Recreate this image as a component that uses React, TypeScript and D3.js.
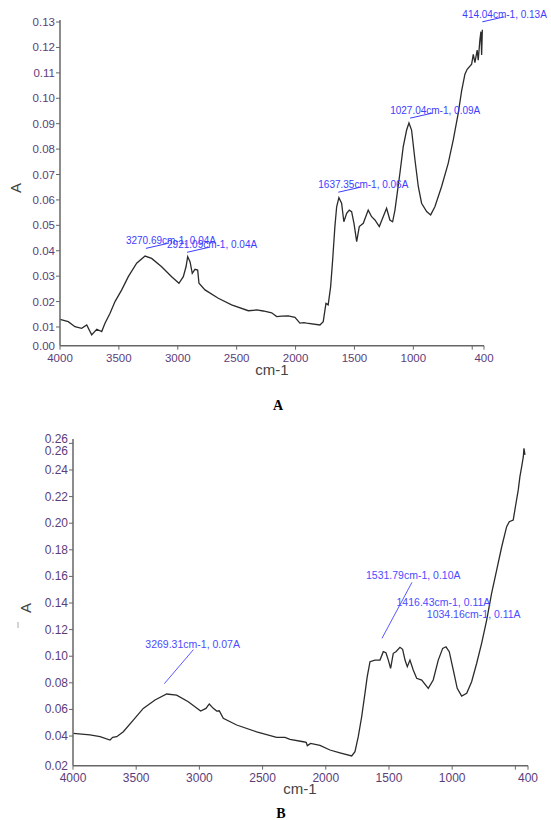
import React from 'react';
import * as d3 from 'd3';

// spectrum A (cm-1, absorbance)
const wavenumbersA = [
  4000, 3930, 3873, 3816, 3773, 3731, 3688, 3646, 3618, 3575, 3533, 3476, 3420, 3349, 3278, 3222,
  3137, 3052, 2990, 2953, 2930, 2916, 2896, 2877, 2854, 2831, 2820, 2769, 2656, 2543, 2401, 2330,
  2274, 2203, 2160, 2118, 2062, 2005, 1963, 1929, 1906, 1793, 1765, 1742, 1723, 1702, 1685, 1666,
  1651, 1632, 1609, 1590, 1566, 1544, 1524, 1504, 1481, 1459, 1425, 1383, 1354, 1326, 1289, 1256,
  1227, 1199, 1176, 1156, 1137, 1114, 1086, 1057, 1037, 1015, 986, 958, 930, 887, 853, 817, 760,
  704, 661, 619, 590, 562, 543, 505, 491, 477, 458, 449, 435, 426, 420, 414,
];
const absorbanceA = [
  0.013, 0.0121, 0.0101, 0.0095, 0.0108, 0.0069, 0.0091, 0.0082, 0.0115, 0.0154, 0.02, 0.0246,
  0.0298, 0.0351, 0.0379, 0.037, 0.0337, 0.0298, 0.0272, 0.0298, 0.0337, 0.0377, 0.0357, 0.0311,
  0.0327, 0.0324, 0.0272, 0.0246, 0.0213, 0.0187, 0.0164, 0.0167, 0.0163, 0.0156, 0.0141, 0.0143,
  0.0144, 0.0138, 0.0115, 0.0117, 0.0115, 0.0108, 0.0121, 0.0193, 0.0187, 0.0259, 0.0364, 0.0495,
  0.0573, 0.0609, 0.0587, 0.0514, 0.0547, 0.056, 0.0554, 0.0508, 0.0436, 0.0495, 0.0508, 0.056,
  0.0534, 0.0521, 0.0495, 0.0534, 0.0567, 0.0521, 0.0514, 0.056, 0.0626, 0.0705, 0.0809, 0.0875,
  0.0903, 0.0875, 0.0757, 0.0653, 0.0587, 0.0554, 0.0541, 0.0573, 0.0653, 0.0744, 0.0836, 0.0941,
  0.1029, 0.1095, 0.1114, 0.1134, 0.1173, 0.114, 0.119, 0.115, 0.1229, 0.1262, 0.117, 0.127,
];

// spectrum B
const wavenumbersB = [
  3997, 3866, 3786, 3707, 3686, 3654, 3602, 3523, 3444, 3351, 3259, 3180, 3088, 2990, 2948, 2922,
  2890, 2863, 2843, 2811, 2705, 2547, 2389, 2323, 2283, 2178, 2155, 2146, 2120, 2046, 1967, 1888,
  1795, 1769, 1743, 1716, 1690, 1672, 1650, 1611, 1571, 1545, 1524, 1505, 1487, 1466, 1445, 1413,
  1392, 1373, 1355, 1334, 1308, 1281, 1241, 1189, 1150, 1110, 1075, 1049, 1023, 991, 960, 925, 885,
  846, 806, 767, 727, 688, 648, 608, 569, 548, 517, 495, 477, 464, 450, 437, 432, 424,
];
const absorbanceB = [
  0.042, 0.0408, 0.0395, 0.037, 0.039, 0.0395, 0.0432, 0.052, 0.0608, 0.0671, 0.0716, 0.0708,
  0.0658, 0.0588, 0.0608, 0.0641, 0.0608, 0.0588, 0.059, 0.0533, 0.0483, 0.0432, 0.039, 0.039,
  0.0375, 0.0357, 0.0352, 0.0328, 0.0345, 0.033, 0.0295, 0.0274, 0.025, 0.0282, 0.0395, 0.0545,
  0.0721, 0.0846, 0.0959, 0.0971, 0.0971, 0.1034, 0.1026, 0.0971, 0.0909, 0.1022, 0.1034, 0.1067,
  0.1052, 0.0971, 0.0921, 0.0971, 0.0896, 0.0834, 0.0821, 0.0759, 0.0821, 0.0971, 0.1059, 0.1071,
  0.1034, 0.0896, 0.0759, 0.07, 0.0721, 0.0808, 0.0947, 0.1097, 0.1272, 0.1473, 0.1648, 0.1823,
  0.1974, 0.2011, 0.2024, 0.215, 0.225, 0.235, 0.2425, 0.25, 0.2563, 0.2513,
];

const xTicks = [4000, 3500, 3000, 2500, 2000, 1500, 1000, 500, 400];
const xTickLabels = ['4000', '3500', '3000', '2500', '2000', '1500', '1000', '', '400'];
const yTicksA = [0.01, 0.02, 0.03, 0.04, 0.05, 0.06, 0.07, 0.08, 0.09, 0.1, 0.11, 0.12, 0.13];
const yTicksB = [0.04, 0.06, 0.08, 0.1, 0.12, 0.14, 0.16, 0.18, 0.2, 0.22, 0.24, 0.26];
const yDomainA = [0.00264, 0.1308];
const yDomainB = [0.0177, 0.2633];

const peaksA = [
  { w: 3270.69, a: '0.04' },
  { w: 2921.09, a: '0.04' },
  { w: 1637.35, a: '0.06' },
  { w: 1027.04, a: '0.09' },
  { w: 414.04, a: '0.13' },
];
const peaksB = [
  { w: 3269.31, a: '0.07' },
  { w: 1531.79, a: '0.10' },
  { w: 1416.43, a: '0.11' },
  { w: 1034.16, a: '0.11' },
];
// label placement for B (pixels relative to the peak)
const labelLayoutB = [
  { tx: -20, ty: -47, line: [-1, -11, 28, -45] },
  { tx: -19, ty: -73, line: [-3, -14, 27, -70] },
  { tx: -3, ty: -42, line: null },
  { tx: -21, ty: -32, line: null },
];

const tickColor = '#5c3d7a';
const labelBlue = '#3d3dff';
const font = 'Arial, "Liberation Sans", sans-serif';
const serif = "'Liberation Serif', 'Times New Roman', serif";

type PanelProps = {
  ws: number[];
  as: number[];
  left: number;
  right: number;
  top: number;
  bottom: number;
  yDomain: number[];
  yTicks: number[];
  tickSize: number;
  topLabel: boolean;
};

function Panel({ ws, as, left, right, top, bottom, yDomain, yTicks, tickSize, topLabel }: PanelProps) {
  const x = d3.scaleLinear().domain([4000, 400]).range([left, right]);
  const y = d3.scaleLinear().domain(yDomain).range([bottom, top]);
  const pts = ws.map((w, i) => [w, as[i]] as [number, number]);
  const line = d3
    .line<[number, number]>()
    .x((d) => x(d[0]))
    .y((d) => y(d[1]));
  const fmt = d3.format('.2f');
  return (
    <g>
      <path d={line(pts) || ''} fill="none" stroke="#2b2b2b" strokeWidth={1.3} />
      <line x1={left} x2={left} y1={top} y2={bottom} stroke="#666" strokeWidth={1.5} />
      <line x1={left} x2={right} y1={bottom} y2={bottom} stroke="#666" strokeWidth={1.5} />
      {yTicks.map((t) => (
        <line key={t} x1={left - 4} x2={left} y1={y(t)} y2={y(t)} stroke="#666" strokeWidth={1} />
      ))}
      {xTicks.map((t) => (
        <line key={t} x1={x(t)} x2={x(t)} y1={bottom} y2={bottom + 4} stroke="#666" strokeWidth={1} />
      ))}
      {xTicks.map((t, i) => (
        <text
          key={'l' + t}
          x={x(t)}
          y={bottom + 16}
          textAnchor="middle"
          fontSize={tickSize}
          fontFamily={font}
          fill={tickColor}
        >
          {xTickLabels[i]}
        </text>
      ))}
      {yTicks.map((t, i) => (
        <text
          key={'y' + t}
          x={left - 5}
          y={y(t) + 4 + (topLabel && i === yTicks.length - 1 ? 8 : 0)}
          textAnchor="end"
          fontSize={tickSize}
          fontFamily={font}
          fill={tickColor}
        >
          {fmt(t)}
        </text>
      ))}
      <text x={left - 5} y={bottom + 4} textAnchor="end" fontSize={tickSize} fontFamily={font} fill={tickColor}>
        {fmt(yDomain[0])}
      </text>
      {topLabel && (
        <text x={left - 5} y={top + 4} textAnchor="end" fontSize={tickSize} fontFamily={font} fill={tickColor}>
          {fmt(yDomain[1])}
        </text>
      )}
    </g>
  );
}

export default function App() {
  const xA = d3.scaleLinear().domain([4000, 400]).range([60, 484]);
  const yA = d3.scaleLinear().domain(yDomainA).range([345.7, 20]);
  const xB = d3.scaleLinear().domain([4000, 400]).range([73, 528]);
  const yB = d3.scaleLinear().domain(yDomainB).range([765.7, 439]);
  const curveA = d3.scaleLinear().domain(wavenumbersA).range(absorbanceA);
  const curveB = d3.scaleLinear().domain(wavenumbersB).range(absorbanceB);

  return (
    <svg
      width={551}
      height={820}
      style={{ position: 'absolute', left: 0, top: 0, background: '#fff' }}
    >
      <Panel
        ws={wavenumbersA}
        as={absorbanceA}
        left={60}
        right={484}
        top={20}
        bottom={345.7}
        yDomain={yDomainA}
        yTicks={yTicksA}
        tickSize={11.5}
        topLabel={false}
      />
      {peaksA.map((p) => {
        const px = xA(p.w);
        const py = yA(curveA(p.w));
        return (
          <g key={p.w}>
            <line x1={px} y1={py - 8} x2={px + 22} y2={py - 13} stroke={labelBlue} strokeWidth={1} />
            <text x={px - 20} y={py - 12} fontSize={10} fontFamily={font} fill={labelBlue}>
              {`${p.w.toFixed(2)}cm-1, ${p.a}A`}
            </text>
          </g>
        );
      })}
      <text
        transform="translate(21,188) rotate(-90)"
        textAnchor="middle"
        fontSize={15}
        fontFamily={font}
        fill="#444"
      >
        A
      </text>
      <text x={272} y={375} textAnchor="middle" fontSize={15} fontFamily={font} fill="#444">
        cm-1
      </text>
      <text x={278} y={410} textAnchor="middle" fontSize={14} fontWeight="bold" fontFamily={serif}>
        A
      </text>

      <Panel
        ws={wavenumbersB}
        as={absorbanceB}
        left={73}
        right={528}
        top={439}
        bottom={765.7}
        yDomain={yDomainB}
        yTicks={yTicksB}
        tickSize={12}
        topLabel={true}
      />
      {peaksB.map((p, i) => {
        const px = xB(p.w);
        const py = yB(curveB(p.w));
        const l = labelLayoutB[i];
        return (
          <g key={p.w}>
            {l.line && (
              <line
                x1={px + l.line[0]}
                y1={py + l.line[1]}
                x2={px + l.line[2]}
                y2={py + l.line[3]}
                stroke="#5a5aff"
                strokeWidth={1}
              />
            )}
            <text x={px + l.tx} y={py + l.ty} fontSize={10.5} fontFamily={font} fill="#4b4bff">
              {`${p.w.toFixed(2)}cm-1, ${p.a}A`}
            </text>
          </g>
        );
      })}
      <line x1={18} x2={18} y1={622} y2={628} stroke="#aaa" strokeWidth={1} />
      <text
        transform="translate(31,608) rotate(-90)"
        textAnchor="middle"
        fontSize={15}
        fontFamily={font}
        fill="#444"
      >
        A
      </text>
      <text x={300} y={794} textAnchor="middle" fontSize={15} fontFamily={font} fill="#444">
        cm-1
      </text>
      <text x={281} y={818} textAnchor="middle" fontSize={14} fontWeight="bold" fontFamily={serif}>
        B
      </text>
    </svg>
  );
}
